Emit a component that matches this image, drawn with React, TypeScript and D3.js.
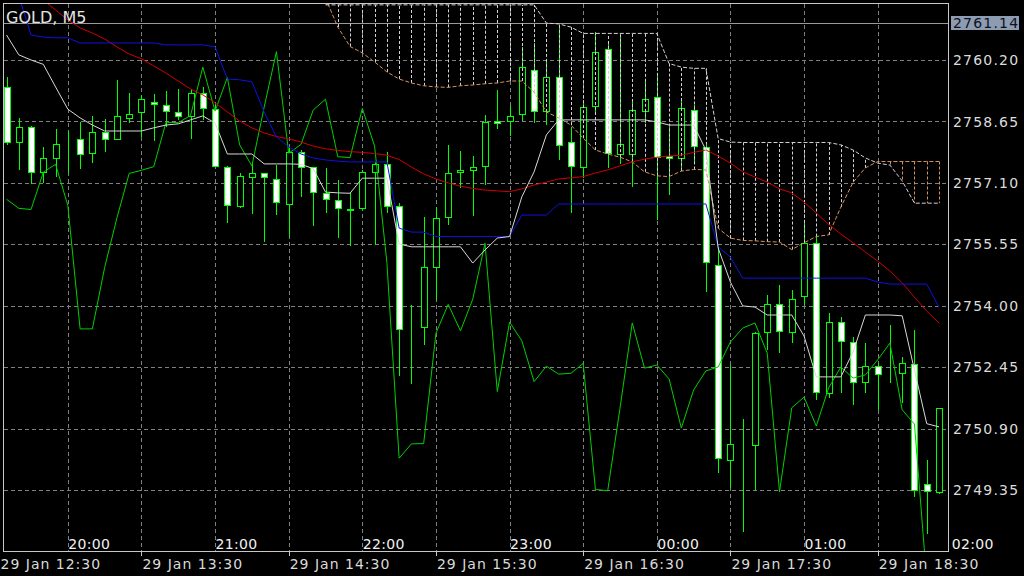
import React from 'react';
import * as d3 from 'd3';

// ---- data (M5 bars, 29 Jan, server time starting 12:35) ----
const opens = [2759.51,2758.12,2758.51,2757.37,2757.72,2758.16,2758.20,2757.85,2758.38,2758.22,2758.75,2758.89,2759.15,2759.07,2758.90,2758.79,2759.38,2758.96,2757.51,2756.52,2757.24,2757.34,2757.21,2756.58,2757.88,2757.49,2756.85,2756.67,2756.44,2756.46,2757.37,2757.57,2756.53,2753.43,2753.46,2754.97,2756.25,2757.37,2757.43,2757.53,2758.67,2758.66,2758.83,2759.95,2758.91,2759.78,2758.12,2757.51,2759.04,2760.48,2757.82,2757.82,2758.91,2759.26,2757.78,2757.74,2758.94,2758.01,2755.03,2750.11,2750.53,2750.49,2753.35,2754.04,2753.35,2754.25,2755.58,2751.81,2753.60,2753.10,2752.09,2752.48,2752.30,2752.30,2752.53,2749.51,2749.31];
const highs = [2759.78,2758.75,2758.53,2758.01,2758.45,2758.42,2758.64,2758.79,2758.71,2759.70,2759.38,2759.32,2759.34,2759.43,2759.46,2759.46,2759.51,2759.07,2757.53,2757.36,2757.64,2757.36,2757.55,2757.97,2757.93,2757.51,2757.47,2757.17,2756.88,2757.43,2757.64,2757.89,2756.59,2754.02,2756.25,2756.50,2758.06,2757.91,2757.78,2758.81,2759.44,2759.04,2760.54,2760.62,2760.20,2761.08,2758.50,2759.15,2760.91,2760.62,2760.83,2759.20,2759.70,2759.86,2758.52,2759.23,2759.07,2758.06,2755.49,2752.50,2751.16,2753.35,2754.27,2754.53,2754.40,2756.08,2755.75,2753.81,2753.73,2753.22,2753.06,2752.55,2753.52,2752.72,2753.39,2750.11,2751.42];
const lows = [2758.06,2757.43,2757.07,2757.11,2757.26,2757.34,2757.44,2757.61,2757.89,2758.21,2758.62,2758.25,2758.17,2758.52,2758.69,2758.22,2758.69,2757.49,2756.10,2756.46,2756.32,2755.62,2756.29,2755.73,2756.75,2756.01,2756.35,2755.70,2755.51,2756.42,2755.53,2756.35,2752.22,2752.03,2753.01,2754.15,2756.04,2756.96,2756.27,2757.05,2758.45,2758.28,2758.67,2758.60,2758.56,2757.68,2756.35,2757.22,2758.86,2757.47,2757.59,2757.01,2758.60,2756.17,2756.79,2757.43,2757.60,2754.36,2749.78,2749.40,2748.31,2749.36,2752.89,2752.80,2753.06,2754.02,2751.63,2751.67,2751.80,2751.50,2751.80,2751.37,2752.05,2751.54,2749.19,2748.26,2749.26];
const closes = [2758.12,2758.52,2757.37,2757.74,2758.07,2758.15,2757.84,2758.38,2758.22,2758.80,2758.85,2759.21,2759.10,2758.91,2758.79,2759.36,2758.98,2757.53,2756.55,2757.27,2757.34,2757.24,2756.62,2757.89,2757.49,2756.86,2756.69,2756.46,2756.43,2757.37,2757.57,2756.53,2753.42,2753.42,2754.97,2756.22,2757.34,2757.42,2757.51,2758.63,2758.62,2758.80,2760.02,2758.91,2759.76,2758.06,2757.53,2759.01,2760.41,2757.85,2758.07,2758.94,2759.21,2757.76,2757.74,2758.98,2758.03,2755.10,2750.16,2750.52,2750.53,2753.31,2754.04,2753.37,2754.17,2755.58,2751.84,2753.59,2753.12,2752.09,2752.48,2752.28,2752.30,2752.55,2749.37,2749.34,2751.42];

// Ichimoku Tenkan-sen (white)
const tenkan = [2760.83,2760.33,2760.20,2760.09,2759.52,2758.96,2758.74,2758.56,2758.41,2758.41,2758.41,2758.41,2758.49,2758.56,2758.59,2758.69,2758.79,2758.61,2757.83,2757.83,2757.83,2757.58,2757.58,2757.58,2757.57,2757.46,2756.87,2756.85,2756.84,2757.22,2757.22,2757.22,2755.56,2755.49,2755.49,2755.49,2755.49,2755.49,2755.08,2755.41,2755.71,2755.75,2756.75,2757.38,2758.31,2758.69,2758.69,2758.69,2758.69,2758.69,2758.69,2758.69,2758.69,2758.64,2758.56,2758.56,2758.56,2757.93,2755.46,2754.60,2754.00,2753.97,2753.77,2753.77,2753.77,2753.24,2752.21,2752.21,2752.21,2752.84,2753.77,2753.77,2753.77,2753.75,2752.38,2751.03,2750.95];
// Ichimoku Kijun-sen (blue)
const kijun = [2761.81,2761.81,2760.83,2760.78,2760.76,2760.76,2760.63,2760.63,2760.63,2760.63,2760.63,2760.63,2760.63,2760.58,2760.58,2760.58,2760.58,2760.53,2759.72,2759.70,2759.65,2758.89,2758.26,2758.01,2757.83,2757.73,2757.68,2757.65,2757.63,2757.63,2757.63,2757.63,2755.96,2755.86,2755.86,2755.75,2755.75,2755.75,2755.75,2755.75,2755.75,2755.75,2756.29,2756.29,2756.29,2756.57,2756.57,2756.57,2756.57,2756.57,2756.57,2756.57,2756.57,2756.57,2756.57,2756.57,2756.57,2756.57,2755.49,2755.23,2754.70,2754.70,2754.70,2754.70,2754.70,2754.70,2754.70,2754.70,2754.70,2754.70,2754.70,2754.60,2754.55,2754.55,2754.55,2754.55,2753.97];
// Moving average (red)
const maRed = [2762.47,2762.22,2761.94,2761.71,2761.46,2761.21,2761.01,2760.88,2760.73,2760.53,2760.35,2760.23,2760.05,2759.87,2759.67,2759.47,2759.32,2759.12,2758.89,2758.66,2758.49,2758.36,2758.27,2758.21,2758.13,2758.03,2757.96,2757.92,2757.89,2757.87,2757.84,2757.80,2757.69,2757.50,2757.33,2757.20,2757.10,2757.02,2756.96,2756.92,2756.90,2756.88,2756.95,2757.05,2757.12,2757.20,2757.23,2757.26,2757.35,2757.43,2757.53,2757.63,2757.70,2757.75,2757.78,2757.80,2757.87,2757.93,2757.78,2757.60,2757.38,2757.25,2757.12,2756.95,2756.85,2756.62,2756.34,2756.06,2755.81,2755.59,2755.36,2755.13,2754.88,2754.58,2754.22,2753.87,2753.57];
// Chikou span (green)
const chikou = [2756.69,2756.46,2756.43,2757.37,2757.57,2756.53,2753.42,2753.42,2754.97,2756.22,2757.34,2757.42,2757.51,2758.63,2758.62,2758.80,2760.02,2758.91,2759.76,2758.06,2757.53,2759.01,2760.41,2757.85,2758.07,2758.94,2759.21,2757.76,2757.74,2758.98,2758.03,2755.10,2750.16,2750.52,2750.53,2753.31,2754.04,2753.37,2754.17,2755.58,2751.84,2753.59,2753.12,2752.09,2752.48,2752.28,2752.30,2752.55,2749.37,2749.34,2751.42,2753.57,2752.43,2752.51,2752.16,2750.92,2751.88,2752.36,2752.46,2753.09,2753.44,2753.57,2752.81,2749.31,2751.43,2751.70,2750.97,2751.93,2752.46,2752.18,2752.26,2752.64,2753.06,2751.38,2751.02,2747.09,2746.84];
// Senkou span A (sandy brown) and B (thistle); null where outside data
const senkouA = [null,null,null,null,null,null,null,null,null,null,null,null,null,null,null,null,null,null,null,null,null,null,null,null,null,null,2761.76,2761.03,2760.54,2760.38,2760.15,2759.90,2759.72,2759.62,2759.55,2759.52,2759.51,2759.55,2759.57,2759.60,2759.62,2759.67,2759.67,2759.39,2758.89,2758.74,2758.56,2758.23,2757.93,2757.83,2757.75,2757.63,2757.38,2757.28,2757.26,2757.40,2757.44,2757.43,2755.96,2755.71,2755.65,2755.64,2755.62,2755.61,2755.42,2755.59,2755.75,2755.79,2756.49,2757.12,2757.48,2757.64,2757.64,2757.64,2757.64,2757.64,2757.64];
const senkouB = [null,null,null,null,null,null,null,null,null,null,null,null,null,null,null,null,null,null,null,null,null,null,null,null,null,null,2761.59,2761.59,2761.59,2761.59,2761.59,2761.59,2761.59,2761.59,2761.59,2761.59,2761.59,2761.59,2761.59,2761.59,2761.59,2761.59,2761.59,2761.59,2761.13,2761.11,2761.03,2760.87,2760.87,2760.87,2760.87,2760.87,2760.87,2760.87,2760.11,2760.02,2759.99,2759.99,2758.22,2758.13,2758.12,2758.12,2758.12,2758.12,2758.12,2758.12,2758.12,2758.12,2758.06,2757.93,2757.73,2757.60,2757.55,2757.15,2756.59,2756.59,2756.59];

const priceTicks = [2760.20, 2758.65, 2757.10, 2755.55, 2754.00, 2752.45, 2750.90, 2749.35];
const currentPrice = 2761.14;
const topTimeLabels = ['20:00', '21:00', '22:00', '23:00', '00:00', '01:00', '02:00'];
const bottomTimeLabels = ['29 Jan 12:30', '29 Jan 13:30', '29 Jan 14:30', '29 Jan 15:30', '29 Jan 16:30', '29 Jan 17:30', '29 Jan 18:30'];
const symbolTitle = 'GOLD, M5';

const FONT = '"DejaVu Sans", sans-serif';

export default function App() {
  React.useEffect(() => {
    document.body.style.margin = '0';
    document.body.style.background = '#000';
  }, []);

  const L = 3.5, R = 948.5, T = 3.5, B = 551.5;
  const y = d3.scaleLinear().domain([2747.82, 2761.637]).range([551, 3]);
  const t0 = new Date(2025, 0, 29, 12, 35);
  const barTimes = opens.map((_, i) => d3.timeMinute.offset(t0, 5 * i));
  const x = d3.scaleTime().domain([barTimes[0], barTimes[barTimes.length - 1]]).range([6.5, 939.0]);

  const parseBottom = d3.timeParse('%d %b %H:%M');
  const bottomTimes = bottomTimeLabels.map((s) => {
    const d = parseBottom(s)!;
    d.setFullYear(2025);
    return d;
  });
  // local-time labels (server + 7h) sit on the full server hours
  const topTimes = topTimeLabels.map((_, i) => d3.timeHour.offset(new Date(2025, 0, 29, 13, 0), i));

  // vertical grid every 30 minutes
  const gridTimes = d3.timeMinute.every(30)!.range(d3.timeMinute.offset(barTimes[0], -5), d3.timeMinute.offset(barTimes[barTimes.length - 1], 5));

  const mkLine = (arr: (number | null)[]) =>
    d3.line<number | null>()
      .defined((v) => v != null)
      .x((_, i) => x(barTimes[i]))
      .y((v) => y(v as number))(arr) || '';

  const bodyW = 6;

  return (
    <svg width={1024} height={576} style={{ position: 'absolute', left: 0, top: 0, background: '#000' }}>
      <defs>
        <clipPath id="plot">
          <rect x={L} y={T} width={R - L} height={B - T} />
        </clipPath>
      </defs>
      <rect x={0} y={0} width={1024} height={576} fill="#000" />
      {/* grid */}
      <g stroke="#808080" strokeWidth={1} strokeDasharray="4,3" shapeRendering="crispEdges">
        {priceTicks.map((p) => (
          <line key={'h' + p} x1={L} x2={R} y1={Math.round(y(p)) + 0.5} y2={Math.round(y(p)) + 0.5} />
        ))}
        {gridTimes.map((t, i) => (
          <line key={'v' + i} x1={Math.round(x(t)) + 0.5} x2={Math.round(x(t)) + 0.5} y1={T} y2={B} />
        ))}
      </g>
      {/* current price line */}
      <line x1={L} x2={R} y1={Math.round(y(currentPrice)) + 0.5} y2={Math.round(y(currentPrice)) + 0.5} stroke="#9a9a9a" strokeWidth={1} shapeRendering="crispEdges" />

      <g clipPath="url(#plot)">
        {/* candles */}
        <g shapeRendering="crispEdges">
          {opens.map((o, i) => {
            const cx = Math.round(x(barTimes[i])) + 0.5;
            const c = closes[i];
            const top = Math.round(y(Math.max(o, c))) + 0.5;
            const bot = Math.round(y(Math.min(o, c))) + 0.5;
            const bear = c < o;
            return (
              <g key={'c' + i}>
                <line x1={cx} x2={cx} y1={y(highs[i])} y2={y(lows[i])} stroke="#00ff00" strokeWidth={1} />
                <rect x={cx - bodyW / 2} y={top} width={bodyW} height={Math.max(0, bot - top)} fill={bear ? '#ffffff' : '#000000'} stroke="#00ff00" strokeWidth={1} />
              </g>
            );
          })}
        </g>
        {/* cloud hatching */}
        <g strokeWidth={1} strokeDasharray="3,2">
          {senkouA.map((a, i) => {
            const b = senkouB[i];
            if (a == null || b == null) return null;
            const cx = Math.round(x(barTimes[i])) + 0.5;
            return (
              <line key={'k' + i} x1={cx} x2={cx} y1={y(a)} y2={y(b)} stroke={a > b ? '#d4935e' : '#d8cfd8'} />
            );
          })}
        </g>
        <path d={mkLine(senkouA)} fill="none" stroke="#d4935e" strokeWidth={1} strokeDasharray="4,2" />
        <path d={mkLine(senkouB)} fill="none" stroke="#d8cfd8" strokeWidth={1} strokeDasharray="4,2" />
        {/* indicator lines */}
        <path d={mkLine(chikou)} fill="none" stroke="#00d000" strokeWidth={1} />
        <path d={mkLine(maRed)} fill="none" stroke="#d00000" strokeWidth={1} />
        <path d={mkLine(kijun)} fill="none" stroke="#1010e0" strokeWidth={1} />
        <path d={mkLine(tenkan)} fill="none" stroke="#d8d8d8" strokeWidth={1} />
      </g>

      {/* frame */}
      <rect x={L} y={T} width={R - L} height={B - T} fill="none" stroke="#c8c8c8" strokeWidth={1} shapeRendering="crispEdges" />

      {/* title */}
      <text x={6} y={22.5} fill="#e4e4e4" fontFamily={FONT} fontSize={16}>{symbolTitle}</text>

      {/* price axis */}
      <g fontFamily={FONT} fontSize={14} fill="#dcdcdc" letterSpacing={1.2}>
        {priceTicks.map((p) => (
          <text key={'p' + p} x={953} y={y(p)} dy="0.36em">{p.toFixed(2)}</text>
        ))}
      </g>
      <rect x={951} y={16} width={68} height={14} fill="#8d9cb0" />
      <text x={953} y={y(currentPrice)} dy="0.36em" fill="#0c1020" fontFamily={FONT} fontSize={14} letterSpacing={1.2}>{currentPrice.toFixed(2)}</text>

      {/* time axis */}
      <g stroke="#c8c8c8" shapeRendering="crispEdges">
        {bottomTimes.map((t, i) => (
          <line key={'bt' + i} x1={Math.round(x(t)) + 0.5} x2={Math.round(x(t)) + 0.5} y1={B} y2={B + 4} />
        ))}
      </g>
      <g fontFamily={FONT} fontSize={14} fill="#f2f2f2" letterSpacing={0.3}>
        {topTimes.map((t, i) => (
          <text key={'tt' + i} x={x(t) + 0.5} y={549}>{topTimeLabels[i]}</text>
        ))}
      </g>
      <g fontFamily={FONT} fontSize={14} fill="#dadada" letterSpacing={1}>
        {bottomTimes.map((t, i) => (
          <text key={'bl' + i} x={Math.max(x(t) + 1, 0.5)} y={568.5}>{bottomTimeLabels[i]}</text>
        ))}
      </g>
    </svg>
  );
}
